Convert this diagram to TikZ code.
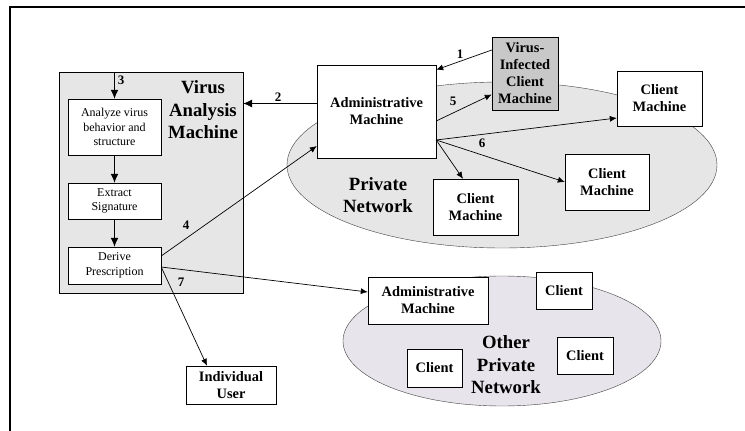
\documentclass[tikz,border=0pt]{standalone}
\usepackage{fontspec}
\setmainfont{Liberation Serif}
\usetikzlibrary{positioning,shapes.geometric,arrows.meta}
\definecolor{boxgray}{RGB}{230,230,230}
\definecolor{sickgray}{RGB}{200,200,200}
\definecolor{othergray}{RGB}{232,228,235}

\begin{document}
\begin{tikzpicture}[x=1pt,y=-1pt]
\tikzstyle{box}=[draw,fill=white,inner sep=0pt,align=center,font=\bfseries\fontsize{14.4}{17}\selectfont]
\tikzstyle{stepbox}=[draw,fill=white,inner sep=0pt,align=center,minimum width=93pt,font=\fontsize{12}{14.5}\selectfont]
\tikzstyle{net}=[draw=black!75,ellipse,inner sep=0pt]
\tikzstyle{big}=[align=center,font=\bfseries\fontsize{18.7}{22.5}\selectfont]
\tikzstyle{num}=[font=\bfseries\fontsize{13}{15}\selectfont]
\tikzstyle{arr}=[-{Latex[length=7pt,width=6pt]},line width=0.7pt]
\tikzstyle{thickarr}=[-{Latex[length=9pt,width=8pt]},line width=1.1pt]

\useasboundingbox (0,0) rectangle (745,431);
\draw[line width=2pt] (10,431) -- (10,7) -- (745,7);

%the two networks
\node[net,fill=boxgray,minimum width=430pt,minimum height=166pt] (privnet) at (502,165) {};
\node[net,fill=othergray,minimum width=318pt,minimum height=130pt] (othernet) at (502,341) {};
\node[big] (privlabel) at (378,195) {Private\\Network};
\node[big] (otherlabel) at (506,365) {Other\\Private\\Network};

%analysis machine
\node[draw,fill=boxgray,minimum width=184pt,minimum height=221pt] (vam) at (151,182.5) {};
\node[big] (vamlabel) at (203,110) {Virus\\Analysis\\Machine};
\node[stepbox,minimum height=56pt] (analyze) at (114.5,127) {Analyze virus\\behavior and\\structure};
\node[stepbox,minimum height=36pt] (extract) at (114.5,201) {Extract\\Signature};
\node[stepbox,minimum height=37pt] (derive) at (114.5,265.5) {Derive\\Prescription};

%machines in the private network
\node[box,minimum width=119pt,minimum height=93pt] (adm1) at (376.5,111.5) {Administrative\\Machine};
\node[box,fill=sickgray,minimum width=66pt,minimum height=73pt] (vic) at (525,73.5) {Virus-\\Infected\\Client\\Machine};
\node[box,minimum width=85pt,minimum height=55pt] (cm1) at (659.5,98.5) {Client\\Machine};
\node[box,minimum width=84pt,minimum height=56pt] (cm2) at (607,182) {Client\\Machine};
\node[box,minimum width=85pt,minimum height=56pt] (cm3) at (475.5,207) {Client\\Machine};

%machines in the other network
\node[box,minimum width=120pt,minimum height=47pt] (adm2) at (428,300.5) {Administrative\\Machine};
\node[box,minimum width=56pt,minimum height=37pt] (cl1) at (564,290.5) {Client};
\node[box,minimum width=55pt,minimum height=38pt] (cl2) at (434.5,368) {Client};
\node[box,minimum width=56pt,minimum height=37pt] (cl3) at (585,355.5) {Client};
\node[box,minimum width=90pt,minimum height=38pt] (user) at (231,385) {Individual\\User};

%arrows inside the analysis machine
\draw[thickarr] (analyze.north |- vam.north) -- (analyze.north);
\draw[thickarr] (analyze.south) -- (extract.north);
\draw[thickarr] (extract.south) -- (derive.north);

%arrows between machines
\coordinate (fan) at ([yshift=-28.5pt]adm1.east);
\draw[arr] ([yshift=23.5pt]vic.west) -- ([yshift=-5pt]adm1.north east);
\draw[thickarr,line width=0.8pt] ([yshift=8pt]adm1.west) -- ([yshift=8pt]adm1.west -| vam.east);
\draw[arr] ([yshift=-9.5pt]adm1.east) -- ([yshift=-21pt]vic.west);
\draw[arr] (fan) -- ([yshift=-19.5pt]cm1.west);
\draw[arr] (fan) -- (cm2.west);
\draw[arr] (fan) -- ([xshift=-12.5pt]cm3.north);
\draw[arr] ([yshift=9.5pt]derive.east) -- ([yshift=-34.5pt]adm1.west);
\draw[arr] ([yshift=-1.5pt]derive.east) -- ([yshift=8.5pt]adm2.west);
\draw[arr] ([yshift=-1.5pt]derive.east) -- ([xshift=-24pt]user.north);

%numbers
\node[num] (n1) at (460,54) {1};
\node[num] (n2) at (278,97) {2};
\node[num] (n3) at (121,80) {3};
\node[num] (n4) at (186,225) {4};
\node[num] (n5) at (453,101) {5};
\node[num] (n6) at (482,143) {6};
\node[num] (n7) at (181,282) {7};
\end{tikzpicture}
\end{document}
